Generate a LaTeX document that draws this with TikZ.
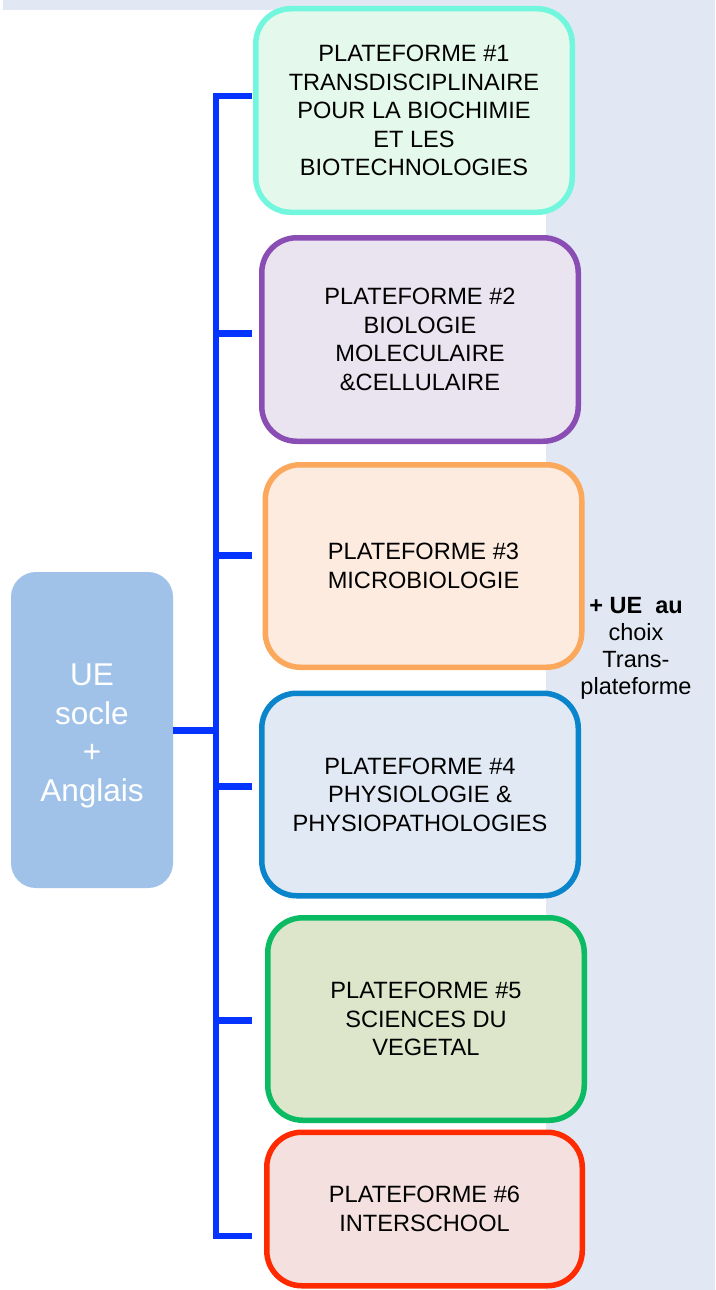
\documentclass[tikz,border=0pt]{standalone}
\usepackage{fontspec}
\setmainfont{Liberation Sans}

\definecolor{backdrop}{HTML}{E1E8F3}
\definecolor{linkblue}{HTML}{0533FF}
\definecolor{ueblue}{HTML}{A0C2E8}
\definecolor{c1line}{HTML}{72F7DE}\definecolor{c1fill}{HTML}{E4F9EC}
\definecolor{c2line}{HTML}{8A4DB3}\definecolor{c2fill}{HTML}{EAE3F0}
\definecolor{c3line}{HTML}{FBA75C}\definecolor{c3fill}{HTML}{FDEBDF}
\definecolor{c4line}{HTML}{0A84CA}\definecolor{c4fill}{HTML}{E1E9F4}
\definecolor{c5line}{HTML}{0ABB63}\definecolor{c5fill}{HTML}{DDE6CA}
\definecolor{c6line}{HTML}{FF2A00}\definecolor{c6fill}{HTML}{F4E1DF}

\tikzset{
  platbox/.style={rounded corners=35pt, line width=5.5pt, inner sep=0pt,
    minimum width=316.5pt, minimum height=203.5pt, align=center,
    font=\fontsize{23.6}{28.5}\selectfont},
  uebox/.style={fill=ueblue, rounded corners=25pt, inner sep=0pt,
    minimum width=162pt, minimum height=316pt},
  uetext/.style={align=center, text=white, inner sep=0pt,
    font=\fontsize{31.5}{38.5}\selectfont},
  sidetext/.style={align=center, inner sep=0pt,
    font=\fontsize{23.5}{27}\selectfont},
  spine/.style={draw=linkblue, line width=6pt},
  tick/.style={draw=linkblue, line width=7pt}
}

\begin{document}
\begin{tikzpicture}[x=1pt, y=-1pt]
\useasboundingbox (0,0) rectangle (715,1290);

% pale backdrop: top band and right column
\fill[backdrop] (3,0) rectangle (715,10);
\fill[backdrop] (546,0) rectangle (715,1290);

% common core unit
\node[uebox] (ue) at (92,730) {};
\node[uetext] (uelabel) at (92,735.7) {UE\\socle\\+\\Anglais};

% the six platforms
\node[platbox, draw=c1line, fill=c1fill] (p1) at (414,110.5)
  {PLATEFORME \#1\\TRANSDISCIPLINAIRE\\POUR LA BIOCHIMIE\\ET LES\\BIOTECHNOLOGIES};
\node[platbox, draw=c2line, fill=c2fill] (p2) at (420,339.5)
  {PLATEFORME \#2\\BIOLOGIE\\MOLECULAIRE\\\&CELLULAIRE};
\node[platbox, draw=c3line, fill=c3fill, minimum height=202.5pt] (p3) at (423.5,566)
  {PLATEFORME \#3\\MICROBIOLOGIE};
\node[platbox, draw=c4line, fill=c4fill, minimum height=202.5pt] (p4) at (420,794.5)
  {PLATEFORME \#4\\PHYSIOLOGIE \&\\PHYSIOPATHOLOGIES};
\node[platbox, draw=c5line, fill=c5fill, minimum height=202.5pt] (p5) at (426,1019)
  {PLATEFORME \#5\\SCIENCES DU\\VEGETAL};
\node[platbox, draw=c6line, fill=c6fill, minimum height=153.5pt, minimum width=315.5pt] (p6) at (424.5,1209)
  {PLATEFORME \#6\\INTERSCHOOL};

% optional cross-platform units
\node[sidetext] (side) at (636,648.5)
  {\textbf{+ UE\ \ au}\\choix\\Trans-\\plateforme};

% bracket joining the core unit to every platform
\coordinate (s1) at (216,95.5);
\coordinate (s2) at (216,333);
\coordinate (s3) at (216,555.7);
\coordinate (s4) at (216,786);
\coordinate (s5) at (216,1020);
\coordinate (s6) at (216,1236);
\coordinate (e1) at (252,95.5);
\coordinate (e6) at (252,1236);

\draw[spine] (e1) -- (s1) -- (s6) -- (e6);
\draw[tick] (s2) -- ++(36,0);
\draw[tick] (s3) -- ++(36,0);
\draw[tick] (s4) -- ++(36,0);
\draw[tick] (s5) -- ++(36,0);
\draw[tick] (ue.east) -- (ue.east -| s1);
\end{tikzpicture}
\end{document}
